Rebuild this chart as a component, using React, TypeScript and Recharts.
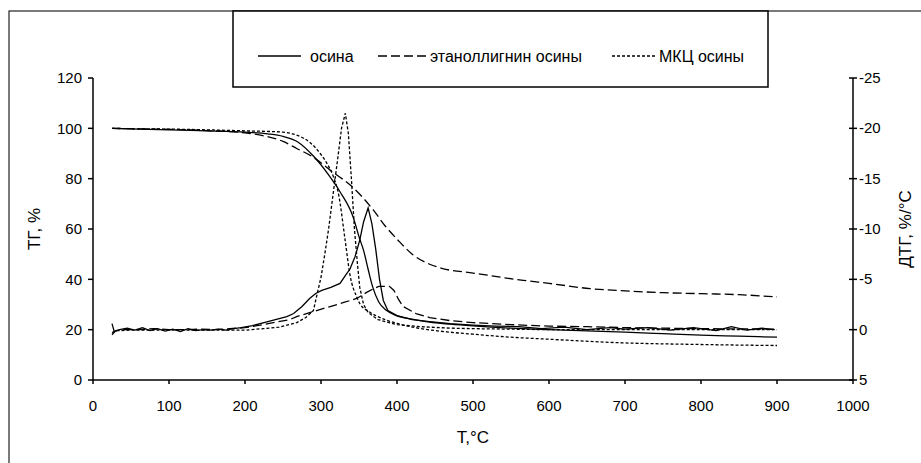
import React from 'react';
import { LineChart, Line, XAxis, YAxis } from 'recharts';

const FONT = '"Liberation Sans", Arial, Helvetica, sans-serif';

// Temperature axis ticks (°C) and value-axis ticks
const tempTicks = [0, 100, 200, 300, 400, 500, 600, 700, 800, 900, 1000];
const tgTicks = [0, 20, 40, 60, 80, 100, 120];
const dtgTicks = [-25, -20, -15, -10, -5, 0, 5];

// Series names
const seriesNames = ['осина', 'этаноллигнин осины', 'МКЦ осины'];

// ТГ (mass, %) — осина
const aspenTgT = [25, 60, 100, 150, 200, 230, 250, 270, 290, 310, 325, 342, 351, 356, 362, 368, 376, 386, 400, 420, 443, 470, 500, 550, 600, 650, 700, 750, 800, 850, 900];
const aspenTgV = [100, 99.7, 99.4, 99.0, 98.5, 97.8, 96.8, 94.5, 89, 81.5, 74.8, 65, 56, 51.5, 44, 37, 31, 27.7, 25.5, 24.2, 23, 22.2, 21.5, 20.6, 20, 19.5, 19, 18.4, 17.8, 17.4, 17.0];

// ТГ — этаноллигнин осины
const ligninTgT = [25, 60, 100, 150, 200, 225, 250, 268, 290, 312, 342, 369, 385, 400, 420, 443, 460, 500, 566, 600, 654, 700, 750, 800, 850, 900];
const ligninTgV = [100, 99.8, 99.6, 99.1, 98.2, 97, 94.8, 92, 88.5, 83.4, 76.5, 67.5, 61, 56, 50, 46, 44.3, 42.5, 39.6, 38.4, 36.3, 35.4, 34.7, 34.3, 33.9, 33.0];

// ТГ — МКЦ осины
const mccTgT = [25, 60, 100, 150, 200, 250, 268, 285, 299, 307, 316, 323, 332, 338, 347, 351, 364, 380, 400, 430, 470, 500, 550, 600, 694, 800, 900];
const mccTgV = [100, 99.8, 99.7, 99.4, 99.0, 98.5, 97.3, 94.5, 90, 86.5, 81, 74, 55, 42, 33, 30.4, 27, 24.5, 22.5, 20.5, 19, 18.2, 17, 16.2, 14.8, 14.1, 13.7];

// ДТГ (%/°C) — осина
const aspenDtgT = [25, 28, 35, 45, 55, 65, 75, 85, 95, 105, 115, 125, 135, 145, 155, 165, 175, 185, 195, 210, 225, 240, 255, 264, 275, 285, 293, 301, 313, 325, 334, 338, 345, 351, 356, 362, 367, 372, 377, 382, 388, 400, 420, 443, 470, 500, 530, 560, 590, 620, 650, 680, 700, 730, 760, 790, 820, 840, 860, 880, 895];
const aspenDtgV = [-0.6, 0.2, 0, -0.15, 0.05, -0.2, 0.1, -0.1, 0.15, -0.05, 0.2, -0.1, 0.1, 0, 0.05, -0.05, 0.05, -0.1, -0.2, -0.4, -0.7, -1.0, -1.3, -1.6, -2.3, -3.1, -3.6, -3.9, -4.2, -4.6, -5.6, -6.0, -7.3, -8.9, -10.7, -12.1, -10.5, -8, -5, -2.9, -1.9, -1.4, -1.0, -0.8, -0.6, -0.45, -0.35, -0.3, -0.1, -0.25, 0, -0.2, -0.05, -0.2, 0.05, -0.2, 0.1, -0.3, 0.05, -0.15, 0];

// ДТГ — этаноллигнин осины
const ligninDtgT = [25, 30, 40, 60, 80, 100, 120, 140, 160, 180, 200, 220, 240, 259, 268, 290, 312, 330, 347, 360, 370, 376, 390, 396, 402, 408, 425, 443, 470, 500, 550, 600, 650, 700, 800, 900];
const ligninDtgV = [0.5, 0.1, 0, 0, -0.1, 0, 0, -0.05, 0, -0.1, -0.2, -0.45, -0.75, -1.0, -1.3, -1.8, -2.3, -2.7, -3.1, -3.7, -4.1, -4.3, -4.3, -3.9, -3.0, -2.3, -1.6, -1.2, -0.9, -0.7, -0.5, -0.35, -0.3, -0.2, -0.1, -0.05];

// ДТГ — МКЦ осины
const mccDtgT = [25, 30, 50, 100, 150, 200, 224, 245, 268, 280, 290, 296, 300, 305, 310, 316, 322, 327, 332, 336, 340, 344, 348, 351, 356, 362, 375, 400, 430, 470, 500, 600, 700, 800, 900];
const mccDtgV = [0.3, 0.1, 0.05, 0.05, 0.05, 0.05, -0.1, -0.25, -0.7, -1.2, -1.9, -3.9, -5.2, -7.5, -10, -13.5, -17, -20, -21.5, -19.5, -15, -10, -6.5, -4.2, -2.5, -1.7, -1.0, -0.5, -0.3, -0.15, -0.1, 0, 0, 0, 0];

const toPoints = (ts: number[], vs: number[]) => ts.map((t, i) => ({ t, v: vs[i] }));

const aspenTg = toPoints(aspenTgT, aspenTgV);
const ligninTg = toPoints(ligninTgT, ligninTgV);
const mccTg = toPoints(mccTgT, mccTgV);
const aspenDtg = toPoints(aspenDtgT, aspenDtgV);
const ligninDtg = toPoints(ligninDtgT, ligninDtgV);
const mccDtg = toPoints(mccDtgT, mccDtgV);

const SOLID = undefined;
const LONG_DASH = '9 4';
const SHORT_DASH = '3 2';

const W = 921;
const H = 463;

// Right axis: ticks that cross the axis line, labels to the right
const CrossTick = (props: any) => {
  const { x, y, payload } = props;
  const ax = x - 6;
  return (
    <g>
      <line x1={ax - 4} x2={ax + 4} y1={y} y2={y} stroke="#000" strokeWidth={1.5} />
      <text x={ax + 6} y={y} dy={5} fontSize={15} fontFamily={FONT} fill="#000" textAnchor="start">
        {payload.value}
      </text>
    </g>
  );
};

const tickStyle = { fontSize: 15, fontFamily: FONT, fill: '#000' };

export default function App() {
  const legendY = 56;
  return (
    <div style={{ position: 'fixed', left: 0, top: 0, width: W, height: H, background: '#fff', overflow: 'hidden' }}>
      <div style={{ position: 'absolute', left: 0, top: 0 }}>
        <LineChart width={W} height={H} margin={{ top: 78, right: 8, left: 33, bottom: 53 }}>
          <XAxis
            dataKey="t"
            type="number"
            domain={[0, 1000]}
            ticks={tempTicks}
            interval={0}
            allowDataOverflow
            height={30}
            tickSize={4}
            tickMargin={16}
            tick={tickStyle}
            axisLine={{ stroke: '#000', strokeWidth: 1.5 }}
            tickLine={{ stroke: '#000', strokeWidth: 1.5 }}
          />
          <YAxis
            yAxisId="tg"
            type="number"
            domain={[0, 120]}
            ticks={tgTicks}
            interval={0}
            allowDataOverflow
            width={60}
            tickSize={5}
            tickMargin={6}
            tick={tickStyle}
            axisLine={{ stroke: '#000', strokeWidth: 1.5 }}
            tickLine={{ stroke: '#000', strokeWidth: 1.5 }}
          />
          <YAxis
            yAxisId="dtg"
            orientation="right"
            type="number"
            domain={[-25, 5]}
            reversed
            ticks={dtgTicks}
            interval={0}
            allowDataOverflow
            width={60}
            tickSize={4}
            tickMargin={2}
            tick={<CrossTick />}
            axisLine={{ stroke: '#000', strokeWidth: 1.5 }}
            tickLine={false}
          />
          <Line yAxisId="tg" data={aspenTg} dataKey="v" type="monotone" stroke="#000" strokeWidth={1.3} strokeDasharray={SOLID} dot={false} isAnimationActive={false} />
          <Line yAxisId="tg" data={ligninTg} dataKey="v" type="monotone" stroke="#000" strokeWidth={1.3} strokeDasharray={LONG_DASH} dot={false} isAnimationActive={false} />
          <Line yAxisId="tg" data={mccTg} dataKey="v" type="monotone" stroke="#000" strokeWidth={1.3} strokeDasharray={SHORT_DASH} dot={false} isAnimationActive={false} />
          <Line yAxisId="dtg" data={aspenDtg} dataKey="v" type="linear" stroke="#000" strokeWidth={1.3} strokeDasharray={SOLID} dot={false} isAnimationActive={false} />
          <Line yAxisId="dtg" data={ligninDtg} dataKey="v" type="linear" stroke="#000" strokeWidth={1.3} strokeDasharray={LONG_DASH} dot={false} isAnimationActive={false} />
          <Line yAxisId="dtg" data={mccDtg} dataKey="v" type="linear" stroke="#000" strokeWidth={1.3} strokeDasharray={SHORT_DASH} dot={false} isAnimationActive={false} />
        </LineChart>
      </div>
      <svg width={W} height={H} style={{ position: 'absolute', left: 0, top: 0, pointerEvents: 'none' }}>
        {/* outer chart frame: top and left edges in view */}
        <rect x={9} y={11} width={930} height={470} fill="none" stroke="#333" strokeWidth={1.3} />
        {/* legend box */}
        <rect x={233} y={11} width={535} height={76} fill="#fff" stroke="#000" strokeWidth={1.5} />
        <line x1={258} x2={301} y1={legendY} y2={legendY} stroke="#000" strokeWidth={1.3} />
        <text x={310} y={legendY + 5.5} fontSize={16} fontFamily={FONT} fill="#000">{seriesNames[0]}</text>
        <line x1={378} x2={426} y1={legendY} y2={legendY} stroke="#000" strokeWidth={1.3} strokeDasharray={LONG_DASH} />
        <text x={430} y={legendY + 5.5} fontSize={16} fontFamily={FONT} fill="#000">{seriesNames[1]}</text>
        <line x1={612} x2={655} y1={legendY} y2={legendY} stroke="#000" strokeWidth={1.3} strokeDasharray={SHORT_DASH} />
        <text x={659} y={legendY + 5.5} fontSize={16} fontFamily={FONT} fill="#000">{seriesNames[2]}</text>
        {/* axis titles */}
        <text x={0} y={0} transform="translate(40 229) rotate(-90)" textAnchor="middle" fontSize={17} fontFamily={FONT} fill="#000">ТГ, %</text>
        <text x={0} y={0} transform="translate(911 229) rotate(-90)" textAnchor="middle" fontSize={17} fontFamily={FONT} fill="#000">ДТГ, %/°С</text>
        <text x={473} y={443} textAnchor="middle" fontSize={17} fontFamily={FONT} fill="#000">T,°C</text>
      </svg>
    </div>
  );
}
